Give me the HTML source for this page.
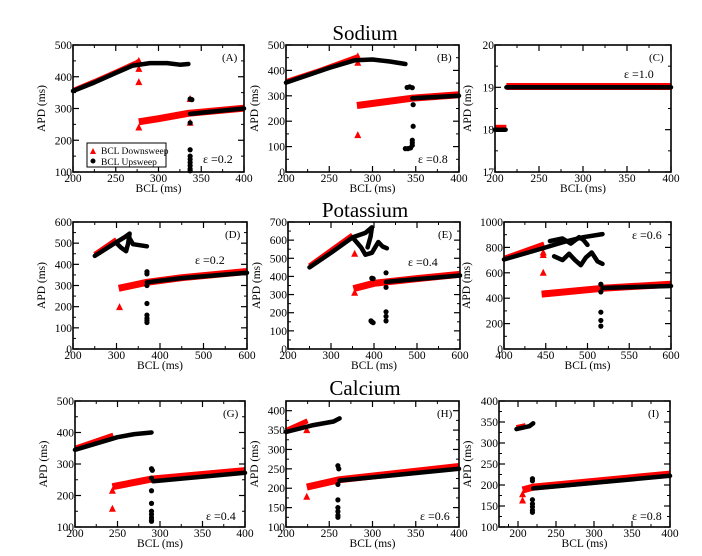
<!DOCTYPE html>
<html><head><meta charset="utf-8"><style>
body{margin:0;background:#fff;width:702px;height:551px;overflow:hidden}
svg text{font-family:"Liberation Serif",serif;fill:#000}
</style></head><body>
<svg id="fig" width="702" height="551" viewBox="0 0 702 551" xmlns="http://www.w3.org/2000/svg">
<text x="365" y="40" font-size="21" text-anchor="middle">Sodium</text>
<text x="365" y="217" font-size="21" text-anchor="middle">Potassium</text>
<text x="365" y="395" font-size="21" text-anchor="middle">Calcium</text>
</svg>
<script>
// ---------- data (BCL ms, APD ms) ----------
const aRedUp=[[200,352],[225,380],[250,410],[275,440],[278,446]];
const aBlkUp=[[200,355],[225,382],[250,412],[270,435],[290,443],[310,443],[325,438],[335,440]];
const aRedLo=[[277,258],[300,268],[335,285],[400,301]];
const aBlkLo=[[337,283],[370,292],[400,300]];
const aRedPts=[[277,450],[277,425],[277,383],[277,240],[337,255],[337,330]];
const aBlkPts=[[337,330],[339,328],[337,255],[337,170],[337,150],[337,140],[337,130],[337,120],[337,110],[337,104]];

const bRedUp=[[200,350],[240,395],[283,448]];
const bBlkUp=[[200,352],[250,410],[280,440],[300,443],[320,435],[338,425]];
const bRedLo=[[282,262],[345,290],[400,304]];
const bBlkLo=[[346,290],[400,300]];
const bRedPts=[[283,455],[283,430],[283,145]];
const bBlkPts=[[340,333],[343,335],[346,332],[347,265],[347,180],[338,92],[341,92],[344,95],[346,105],[346,115],[346,125]];

const cRedUp=[[200,18.02],[213,18.02]];
const cBlkUp=[[200,18],[212,18]];
const cRedLo=[[213,19.02],[400,19.02]];
const cBlkLo=[[213,19],[400,19]];
const cRedPts=[];
const cBlkPts=[];

const dRedUp=[[250,440],[300,510]];
const dBlkUp=[[250,440],[300,505],[320,530],[330,545],[327,500],[322,462],[310,480],[300,500]];
const dBlkUp2=[[328,530],[338,495],[355,490],[370,485]];
const dRedLo=[[305,287],[370,315],[450,337],[600,366]];
const dBlkLo=[[370,315],[450,335],[600,360]];
const dRedPts=[[307,198]];
const dBlkPts=[[370,365],[370,355],[370,300],[370,215],[370,160],[370,145],[370,135],[370,125]];

const eRedUp=[[250,450],[350,620]];
const eBlkUp=[[250,450],[300,530],[350,615],[380,640],[395,670],[392,620],[385,560]];
const eBlkUp2=[[350,615],[370,560],[380,520],[395,530],[410,590],[420,565],[430,555]];
const eRedLo=[[352,333],[400,362],[500,388],[600,412]];
const eBlkLo=[[428,370],[500,385],[600,405]];
const eRedPts=[[355,525],[355,310]];
const eBlkPts=[[395,390],[398,388],[428,420],[428,340],[395,150],[398,145],[393,155],[428,205],[428,180],[428,155]];

const fRedUp=[[400,702],[448,815]];
const fBlkUp=[[400,705],[450,800],[470,840],[495,880],[518,905]];
const fBlkUp2=[[455,850],[470,870],[480,830],[490,880],[495,860],[500,820]];
const fBlkUp3=[[460,730],[470,700],[478,750],[485,700],[492,660],[498,720],[505,760],[512,690],[518,670]];
const fRedLo=[[445,432],[518,478],[600,510]];
const fBlkLo=[[518,480],[600,496]];
const fRedPts=[[447,760],[447,740],[447,600]];
const fBlkPts=[[516,510],[516,450],[516,290],[516,225],[516,180]];

const gRedUp=[[200,345],[245,387]];
const gBlkUp=[[200,345],[250,385],[270,395],[290,400]];
const gRedLo=[[244,228],[290,252],[400,279]];
const gBlkLo=[[292,245],[400,272]];
const gRedPts=[[244,215],[244,158]];
const gBlkPts=[[290,285],[291,280],[290,255],[290,215],[290,175],[290,150],[290,140],[290,130],[290,122],[290,118]];

const hRedUp=[[200,345],[225,370]];
const hBlkUp=[[200,345],[230,362],[255,372],[262,380]];
const hRedLo=[[224,203],[262,222],[400,256]];
const hBlkLo=[[262,220],[400,250]];
const hRedPts=[[224,350],[224,178]];
const hBlkPts=[[260,258],[261,250],[260,210],[260,170],[260,150],[260,140],[260,130],[260,125]];

const iRedUp=[[198,333],[210,338]];
const iBlkUp=[[198,333],[215,340],[220,347]];
const iRedLo=[[206,188],[220,195],[400,226]];
const iBlkLo=[[220,192],[400,222]];
const iRedPts=[[206,178],[206,163]];
const iBlkPts=[[219,215],[219,210],[219,165],[219,155],[219,148],[219,140],[219,135]];

// tick labels
const xTicks200_400=[200,250,300,350,400];
const xTicks200_600=[200,300,400,500,600];
const xTicks400_600=[400,450,500,550,600];
const yTicksA=[100,200,300,400,500];
const yTicksB=[0,100,200,300,400,500];
const yTicksC=[17,18,19,20];
const yTicksD=[0,100,200,300,400,500,600];
const yTicksE=[0,100,200,300,400,500,600,700];
const yTicksF=[0,200,400,600,800,1000];
const yTicksG=[100,200,300,400,500];
const yTicksH=[100,150,200,250,300,350,400];
const yTicksI=[100,150,200,250,300,350,400];

// ---------- layout ----------
const panels=[
 {id:'a',L:'(A)',eps:'ε =0.2',box:[73,45,244,172],x:[200,400],y:[100,500],xt:xTicks200_400,yt:yTicksA,ru:[aRedUp],bu:[aBlkUp],rl:aRedLo,bl:aBlkLo,rp:aRedPts,bp:aBlkPts,ep:[203,163],yo:24},
 {id:'b',L:'(B)',eps:'ε =0.8',box:[286,45,459,172],x:[200,400],y:[0,500],xt:xTicks200_400,yt:yTicksB,ru:[bRedUp],bu:[bBlkUp],rl:bRedLo,bl:bBlkLo,rp:bRedPts,bp:bBlkPts,ep:[418,163],yo:24},
 {id:'c',L:'(C)',eps:'ε =1.0',box:[495,45,671,172],x:[200,400],y:[17,20],xt:xTicks200_400,yt:yTicksC,ru:[cRedUp],bu:[cBlkUp],rl:cRedLo,bl:cBlkLo,rp:cRedPts,bp:cBlkPts,ep:[624,78],yo:20},
 {id:'d',L:'(D)',eps:'ε =0.2',box:[73,222,247,349],x:[200,600],y:[0,600],xt:xTicks200_600,yt:yTicksD,ru:[dRedUp],bu:[dBlkUp,dBlkUp2],rl:dRedLo,bl:dBlkLo,rp:dRedPts,bp:dBlkPts,ep:[195,264],yo:24},
 {id:'e',L:'(E)',eps:'ε =0.4',box:[288,222,460,349],x:[200,600],y:[0,700],xt:xTicks200_600,yt:yTicksE,ru:[eRedUp],bu:[eBlkUp,eBlkUp2],rl:eRedLo,bl:eBlkLo,rp:eRedPts,bp:eBlkPts,ep:[408,266],yo:24},
 {id:'f',L:'',eps:'ε =0.6',box:[504,222,671,349],x:[400,600],y:[0,1000],xt:xTicks400_600,yt:yTicksF,ru:[fRedUp],bu:[fBlkUp,fBlkUp2,fBlkUp3],rl:fRedLo,bl:fBlkLo,rp:fRedPts,bp:fBlkPts,ep:[632,239],yo:30},
 {id:'g',L:'(G)',eps:'ε =0.4',box:[75,401,245,527],x:[200,400],y:[100,500],xt:xTicks200_400,yt:yTicksG,ru:[gRedUp],bu:[gBlkUp],rl:gRedLo,bl:gBlkLo,rp:gRedPts,bp:gBlkPts,ep:[206,520],yo:24},
 {id:'h',L:'(H)',eps:'ε =0.6',box:[286,401,459,527],x:[200,400],y:[100,425],xt:xTicks200_400,yt:yTicksH,ru:[hRedUp],bu:[hBlkUp],rl:hRedLo,bl:hBlkLo,rp:hRedPts,bp:hBlkPts,ep:[420,520],yo:24},
 {id:'i',L:'(I)',eps:'ε =0.8',box:[499,401,670,527],x:[175,400],y:[100,400],xt:xTicks200_400,yt:yTicksI,ru:[iRedUp],bu:[iBlkUp],rl:iRedLo,bl:iBlkLo,rp:iRedPts,bp:iBlkPts,ep:[632,520],yo:24}
];
const NS='http://www.w3.org/2000/svg';
const svg=document.getElementById('fig');
function mk(tag,attrs,parent){const e=document.createElementNS(NS,tag);for(const k in attrs)e.setAttribute(k,attrs[k]);(parent||svg).appendChild(e);return e;}

panels.forEach(p=>{
  const [x0,y0,x1,y1]=p.box;
  const sx=v=>x0+(v-p.x[0])/(p.x[1]-p.x[0])*(x1-x0);
  const sy=v=>y1-(v-p.y[0])/(p.y[1]-p.y[0])*(y1-y0);
  const g=mk('g',{});
  
  
  const clip=mk('clipPath',{id:'clip-'+p.id},g);
  mk('rect',{x:x0-4,y:y0-6,width:x1-x0+10,height:y1-y0+10},clip);
  const dg=mk('g',{'clip-path':'url(#clip-'+p.id+')'},g);
  const pts=arr=>arr.map(d=>sx(d[0]).toFixed(1)+','+sy(d[1]).toFixed(1)).join(' ');
  p.ru.forEach(s=>{const l=mk('polyline',{points:pts(s),fill:'none',stroke:'#f00','stroke-width':5,'stroke-linejoin':'round',transform:'translate(0,-1.5)'},dg);
    
    });
  const rl=mk('polyline',{points:pts(p.rl),fill:'none',stroke:'#f00','stroke-width':7,'stroke-linejoin':'round'},dg);
  
  
  p.rp.forEach(d=>{const X=sx(d[0]),Y=sy(d[1]);
    const t=mk('polygon',{points:`${X},${Y-4} ${X-3.5},${Y+3} ${X+3.5},${Y+3}`,fill:'#f00'},dg);
    
    });
  p.bu.forEach(s=>{const l=mk('polyline',{points:pts(s),fill:'none',stroke:'#000','stroke-width':4.5,'stroke-linejoin':'round','stroke-linecap':'round'},dg);
    
    });
  const bl=mk('polyline',{points:pts(p.bl),fill:'none',stroke:'#000','stroke-width':4.5,'stroke-linecap':'round'},dg);
  
  
  p.bp.forEach(d=>{const c=mk('circle',{cx:sx(d[0]),cy:sy(d[1]),r:2.6,fill:'#000'},dg);
    
    });
  const fr=mk('rect',{x:x0,y:y0,width:x1-x0,height:y1-y0,fill:'none',stroke:'#000','stroke-width':1.6},g);
  
  
  const xt=p.xt;
  xt.forEach((v,i)=>{const X=sx(v);
    mk('line',{x1:X,y1:y1,x2:X,y2:y1-6,stroke:'#000','stroke-width':1.2},g);
    mk('line',{x1:X,y1:y0,x2:X,y2:y0+6,stroke:'#000','stroke-width':1.2},g);
    const t=mk('text',{x:X,y:y1+10,'font-size':11.5,'text-anchor':'middle'},g);t.textContent=v;
    
    
    if(i<xt.length-1){const m=sx((v+xt[i+1])/2);
      mk('line',{x1:m,y1:y1,x2:m,y2:y1-3,stroke:'#000'},g);mk('line',{x1:m,y1:y0,x2:m,y2:y0+3,stroke:'#000'},g);}
  });
  if(p.x[0]<xt[0]){const m=sx((p.x[0]+xt[0])/2);mk('line',{x1:m,y1:y1,x2:m,y2:y1-3,stroke:'#000'},g);}
  const yt=p.yt;
  yt.forEach((v,i)=>{const Y=sy(v);
    mk('line',{x1:x0,y1:Y,x2:x0+6,y2:Y,stroke:'#000','stroke-width':1.2},g);
    mk('line',{x1:x1,y1:Y,x2:x1-6,y2:Y,stroke:'#000','stroke-width':1.2},g);
    const t=mk('text',{x:x0-1,y:Y+4,'font-size':11.5,'text-anchor':'end'},g);t.textContent=v;
    
    
    if(i<yt.length-1){const m=sy((v+yt[i+1])/2);
      mk('line',{x1:x0,y1:m,x2:x0+3,y2:m,stroke:'#000'},g);mk('line',{x1:x1,y1:m,x2:x1-3,y2:m,stroke:'#000'},g);}
  });
  const xl=mk('text',{x:(x0+x1)/2,y:y1+20,'font-size':11.5,'text-anchor':'middle'},g);xl.textContent='BCL (ms)';
  
  
  const yx=x0-p.yo-4,yy=(y0+y1)/2;
  const yl=mk('text',{x:yx,y:yy,'font-size':11.5,'text-anchor':'middle',transform:`rotate(-90 ${yx} ${yy})`},g);yl.textContent='APD (ms)';
  
  
  if(p.L){const lt=mk('text',{x:x1-22,y:y0+16,'font-size':11},g);lt.textContent=p.L;
    
    }
  const et=mk('text',{x:p.ep[0],y:p.ep[1],'font-size':12},g);et.textContent=p.eps;
  
  
});

const lg=mk('g',{});


mk('rect',{x:87,y:143,width:79,height:24,fill:'#fff',stroke:'#000','stroke-width':1},lg);
mk('polygon',{points:'93,148 90,154 96,154',fill:'#f00'},lg);
const l1=mk('text',{x:101,y:154,'font-size':9.5},lg);l1.textContent='BCL Downsweep';


mk('circle',{cx:93,cy:161,r:2.5,fill:'#000'},lg);
const l2=mk('text',{x:101,y:165,'font-size':9.5},lg);l2.textContent='BCL Upsweep';


</script>
</body></html>
